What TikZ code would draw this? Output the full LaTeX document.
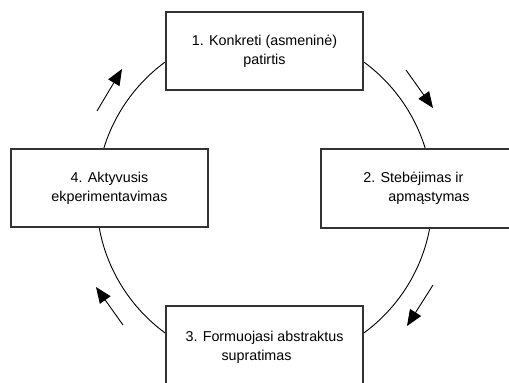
\documentclass[tikz,border=0pt]{standalone}
\usepackage{fontspec}
\setmainfont{Liberation Sans}
\usetikzlibrary{arrows.meta}
\definecolor{boxline}{HTML}{333333}

\begin{document}
\begin{tikzpicture}[x=1pt,y=-1pt,
  stage/.style={draw=boxline,line width=1.3pt,fill=white,minimum width=197pt,minimum height=78pt,font=\fontsize{14.3}{19}\selectfont},
  cyc/.style={-{Triangle[length=16pt,width=13pt]},line width=0.9pt}]
\useasboundingbox (0,0) rectangle (509,383);
% learning cycle
\draw[line width=0.9pt] (264.5,197.5) circle[radius=168pt];
\node[stage,align=center] (konk) at (264.5,51) {1. Konkreti (asmeninė)\\patirtis};
\node[stage,align=left,minimum width=191pt,minimum height=79pt] (steb) at (416.5,188.5) {2. Stebėjimas ir\\\hspace*{25pt}apmąstymas};
\node[stage,align=left,minimum height=82pt] (form) at (264.5,347) {3. Formuojasi abstraktus\\\hspace*{36pt}supratimas};
\node[stage,align=center] (akt) at (109.5,188) {4. Aktyvusis\\ekperimentavimas};
% direction arrows
\coordinate (a1s) at (406,70);  \coordinate (a1e) at (433,108);
\coordinate (a2s) at (433,285); \coordinate (a2e) at (407,326);
\coordinate (a3s) at (123,325); \coordinate (a3e) at (96,287);
\coordinate (a4s) at (97,111);  \coordinate (a4e) at (122,69);
\foreach \x/\y in {a1s/a1e,a2s/a2e,a3s/a3e,a4s/a4e}{\draw[cyc] (\x)--(\y);}
\end{tikzpicture}
\end{document}
